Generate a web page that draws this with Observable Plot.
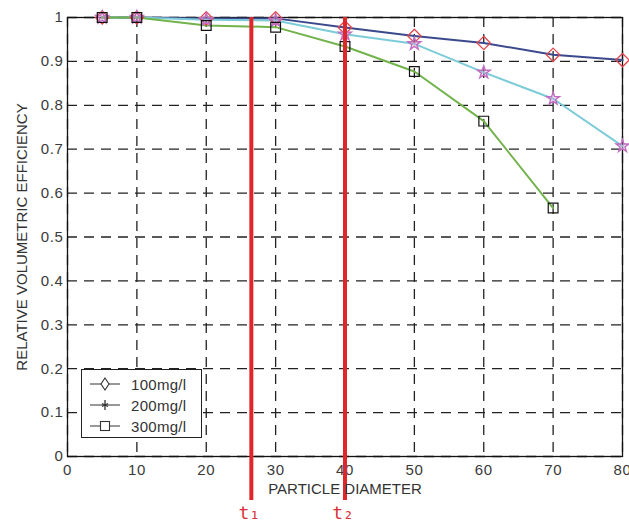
<!DOCTYPE html>
<html><head><meta charset="utf-8">
<script src="https://cdn.jsdelivr.net/npm/d3@7"></script>
<script src="https://cdn.jsdelivr.net/npm/@observablehq/plot@0.6"></script>
<style>
body{margin:0;background:#fff;font-family:"Liberation Sans",Arial,sans-serif;}
#wrap{position:relative;width:629px;height:524px;}
#chart svg g[aria-label$="tick label"]{font-size:15px;letter-spacing:0.6px;}
#legend{position:absolute;left:81px;top:369px;width:119px;height:67px;border:1.3px solid #222;background:#fff;font-size:15px;color:#333;letter-spacing:0.3px;}
#legend .row{position:absolute;left:0;height:20px;display:flex;align-items:center;}
#legend svg{margin-left:8px;margin-right:11px;}
</style></head><body>
<div id="wrap"><div id="chart"></div>
<div id="legend"></div></div>
<script>
const diameters = [5, 10, 20, 30, 40, 50, 60, 70, 80];
const eff100 = [1, 1, 0.998, 0.998, 0.977, 0.958, 0.942, 0.915, 0.903];
const eff200 = [1, 1, 0.995, 0.993, 0.962, 0.940, 0.875, 0.815, 0.707];
const eff300 = [1, 1, 0.982, 0.978, 0.934, 0.877, 0.764, 0.566];
const seriesNames = ["100mg/l", "200mg/l", "300mg/l"];
const xTicks = [0, 10, 20, 30, 40, 50, 60, 70, 80];
const yTicks = [0, 0.1, 0.2, 0.3, 0.4, 0.5, 0.6, 0.7, 0.8, 0.9, 1];
const thresholds = [26.5, 40];
const thresholdLabels = ["t\u2081", "t\u2082"];

const rows = (vals, name) => vals.map((v, i) => ({x: diameters[i], y: v, s: name}));
const d100 = rows(eff100, seriesNames[0]);
const d200 = rows(eff200, seriesNames[1]);
const d300 = rows(eff300, seriesNames[2]);
const thr = thresholds.map((t, i) => ({x: t, label: thresholdLabels[i]}));

const dash = "10,7";
const chart = Plot.plot({
  width: 629, height: 524,
  marginLeft: 67, marginRight: 7, marginTop: 17, marginBottom: 68,
  style: {fontFamily: "Liberation Sans, Arial, sans-serif", background: "#fff"},
  x: {domain: [0, 80]},
  y: {domain: [0, 1]},
  marks: [
    Plot.gridX(xTicks, {stroke: "#222", strokeOpacity: 1, strokeDasharray: dash, strokeWidth: 1.3}),
    Plot.gridY(yTicks, {stroke: "#222", strokeOpacity: 1, strokeDasharray: dash, strokeWidth: 1.3}),
    Plot.axisX(xTicks, {tickSize: 0, tickPadding: 8, label: null, fontSize: 15, fill: "#3a3a3a"}),
    Plot.axisY(yTicks, {tickSize: 0, tickPadding: 4, label: null, tickFormat: d => String(d), fontSize: 15, fill: "#3a3a3a"}),
    Plot.frame({stroke: "#111", strokeWidth: 1.3}),
    Plot.line(d100, {x: "x", y: "y", stroke: "#3a4a8c", strokeWidth: 2}),
    Plot.line(d200, {x: "x", y: "y", stroke: "#7ccbd8", strokeWidth: 2}),
    Plot.line(d300, {x: "x", y: "y", stroke: "#72b34c", strokeWidth: 2}),
    Plot.dot(d100, {x: "x", y: "y", symbol: "diamond2", r: 6, stroke: "#e2474f", strokeWidth: 1.3, fill: "none"}),
    Plot.dot(d200, {x: "x", y: "y", symbol: "star", r: 4, stroke: "#c06cc0", strokeWidth: 1.4, fill: "#d9a6d6", fillOpacity: 0.35}),
    Plot.dot(d300, {x: "x", y: "y", symbol: "square", r: 5.5, stroke: "#111", strokeWidth: 1.2, fill: "none"}),
    Plot.ruleX(thr, {x: "x", y1: 1, y2: -0.1, stroke: "#e0262a", strokeWidth: 4}),
    Plot.text(thr, {x: "x", y: -0.13, text: "label", fill: "#d8333a", fontSize: 18, fontFamily: "DejaVu Sans Mono, monospace", dx: -2}),
    Plot.text(["PARTICLE DIAMETER"], {frameAnchor: "bottom", dy: 37, fill: "#333", fontSize: 15, letterSpacing: "0.6px"}),
    Plot.text(["RELATIVE VOLUMETRIC EFFICIENCY"], {frameAnchor: "left", textAnchor: "middle", dx: -45, rotate: -90, fill: "#333", fontSize: 15, letterSpacing: "0.7px"})
  ]
});
document.getElementById("chart").appendChild(chart);

const symbols = [
  '<path d="M10,-1L14,5L10,11L6,5Z" fill="#fff" stroke="#333" stroke-width="1.1"/>',
  '<path d="M10,0V10M7,3.5L13,6.5M7,6.5L13,3.5" stroke="#333" stroke-width="1.3"/>',
  '<rect x="5.5" y="0.5" width="9" height="9" fill="#fff" stroke="#333" stroke-width="1.1"/>'
];
const leg = document.getElementById("legend");
seriesNames.forEach((n, i) => {
  const r = document.createElement("div");
  r.className = "row";
  r.style.top = (4 + i * 21) + "px";
  r.innerHTML = '<svg width="30" height="12" viewBox="-5 -1 30 12" overflow="visible"><line x1="-5" y1="5" x2="25" y2="5" stroke="#333" stroke-width="1"/>' + symbols[i] + '</svg><span>' + n + '</span>';
  leg.appendChild(r);
});
</script></body></html>
